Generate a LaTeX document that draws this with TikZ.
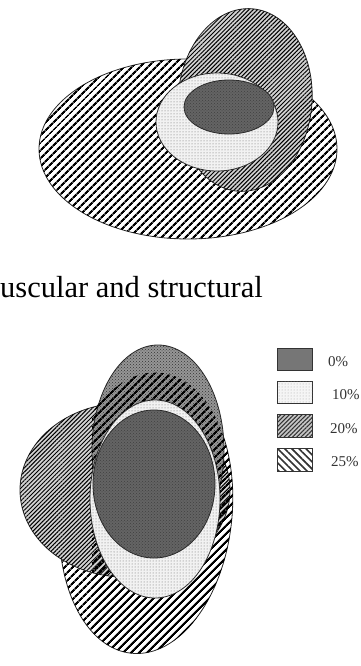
\documentclass[tikz,border=0pt]{standalone}
\usepackage{fontspec}
\setmainfont{Liberation Serif}
\usetikzlibrary{patterns,patterns.meta}
\definecolor{midgray}{RGB}{118,118,118}
\definecolor{darkgray}{RGB}{100,100,100}
\definecolor{checkgray}{RGB}{150,150,150}
\definecolor{edge}{RGB}{40,40,40}
\tikzset{
  outl/.style={draw=edge,line width=0.8pt},
  pzero/.style={outl,fill=darkgray,postaction={pattern=crosshatch dots,pattern color=black!75}},
  pcheck/.style={outl,fill=checkgray,postaction={pattern=crosshatch dots,pattern color=black!80}},
  pten/.style={outl,fill=gray!10,postaction={pattern=dots,pattern color=black!60}},
  ptwenty/.style={outl,fill=gray!35,postaction={pattern={Lines[angle=45,distance=3pt,line width=1pt]},pattern color=black}},
  ptwentyfive/.style={outl,fill=white,postaction={pattern={Lines[angle=45,distance=5.4pt,line width=2.2pt]},pattern color=black}},
  stripesonly/.style={pattern={Lines[angle=45,distance=5.4pt,line width=2.2pt]},pattern color=black},
  legbox/.style={draw=black!80,line width=0.9pt},
  legtxt/.style={anchor=base west,inner sep=0pt,font=\fontsize{15}{18}\selectfont,text=black!80}
}
\begin{document}
\begin{tikzpicture}[x=1pt,y=-1pt]
\useasboundingbox (0,0) rectangle (361,666);
% ---------- top figure ----------
\path[ptwentyfive] (188,149) ellipse [x radius=149,y radius=90];
\begin{scope}[shift={(245,100)},rotate=-4.4]
  \path[ptwenty] (0,0) ellipse [x radius=67,y radius=91.5];
\end{scope}
\path[pten] (217,122) ellipse [x radius=61,y radius=49];
\path[pzero] (229,107) ellipse [x radius=45,y radius=27];
% ---------- caption ----------
\node[anchor=base west,inner sep=0pt,font=\fontsize{30.5}{36}\selectfont] (cap) at (0,297) {uscular and structural};
% ---------- bottom figure ----------
\begin{scope}[shift={(146,513)},rotate=-6]
  \path[ptwentyfive] (0,0) ellipse [x radius=86,y radius=141];
\end{scope}
\path[ptwenty] (125,490) ellipse [x radius=105,y radius=87];
\path[pcheck] (158,450) ellipse [x radius=66,y radius=105];
\begin{scope}
  \clip (92,300) rectangle (361,666);
  \begin{scope}[shift={(146,513)},rotate=-6]
    \path[stripesonly] (0,0) ellipse [x radius=86,y radius=141];
  \end{scope}
\end{scope}
\path[pten] (155,499) ellipse [x radius=65,y radius=99];
\path[pzero] (154,484) ellipse [x radius=61,y radius=74];
% ---------- legend ----------
\path[legbox,fill=midgray] (277,348) rectangle (312,370);
\path[legbox,fill=gray!8,postaction={pattern=dots,pattern color=black!35}] (277,381) rectangle (312,403);
\path[legbox,fill=gray!45,postaction={pattern={Lines[angle=45,distance=3pt,line width=1pt]},pattern color=black!80}] (277,414) rectangle (312,437);
\path[legbox,fill=white,postaction={pattern={Lines[angle=-45,distance=5pt,line width=1.6pt]},pattern color=black!80}] (277,448) rectangle (312,471);
\node[legtxt] (l0) at (328,366) {0\%};
\node[legtxt] (l10) at (332,399) {10\%};
\node[legtxt] (l20) at (330,433) {20\%};
\node[legtxt] (l25) at (331,466) {25\%};
\end{tikzpicture}
\end{document}
